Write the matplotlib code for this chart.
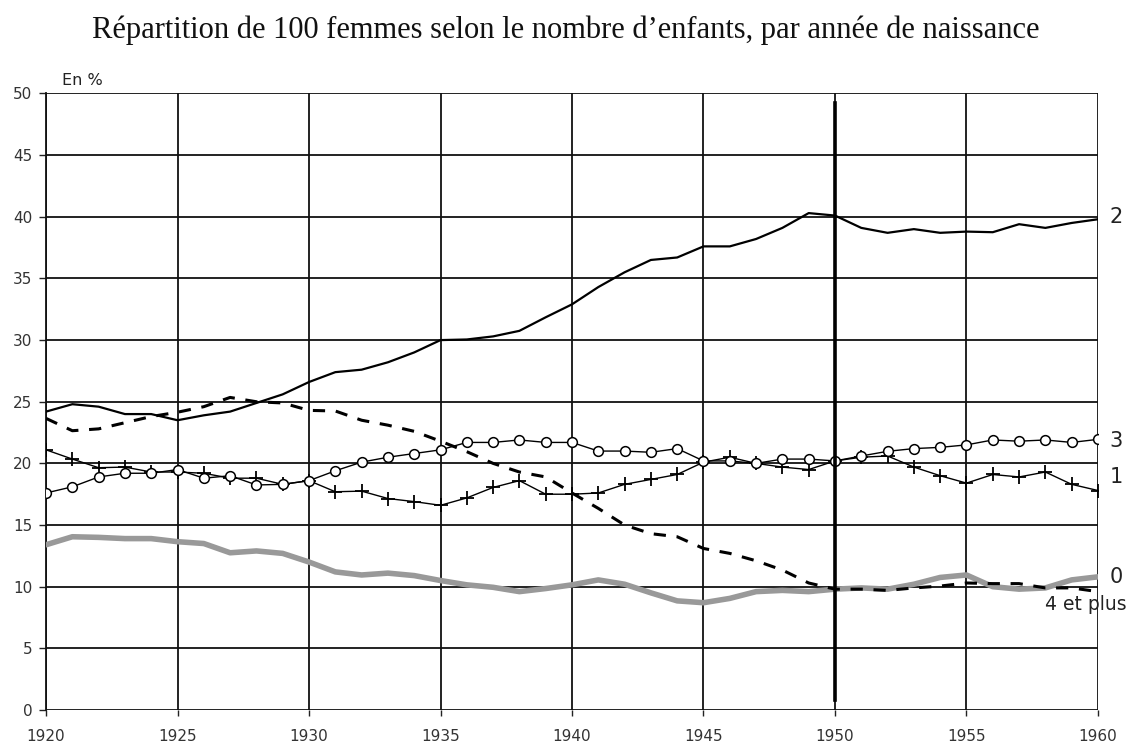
import matplotlib
matplotlib.use("Agg")
import matplotlib.pyplot as plt

years = list(range(1920, 1961))

two = [24.2, 24.8, 24.6, 24.0, 24.0, 23.5, 23.9, 24.2, 24.9, 25.6,
       26.6, 27.4, 27.6, 28.2, 29.0, 30.0, 30.05, 30.3, 30.75, 31.85,
       32.9, 34.3, 35.5, 36.5, 36.7, 37.6, 37.6, 38.2, 39.1, 40.3,
       40.1, 39.1, 38.7, 39.0, 38.7, 38.8, 38.75, 39.4, 39.1, 39.5, 39.8]

three = [17.6, 18.1, 18.9, 19.2, 19.2, 19.5, 18.8, 19.0, 18.25, 18.3,
         18.6, 19.4, 20.1, 20.5, 20.8, 21.1, 21.7, 21.7, 21.9, 21.7,
         21.7, 21.0, 21.0, 20.9, 21.2, 20.2, 20.2, 20.0, 20.35, 20.35,
         20.2, 20.6, 20.98, 21.2, 21.3, 21.5, 21.9, 21.8, 21.9, 21.7, 21.95]

one = [21.1, 20.35, 19.65, 19.7, 19.3, 19.3, 19.2, 18.8, 18.8, 18.3,
       18.6, 17.7, 17.75, 17.15, 16.9, 16.6, 17.2, 18.05, 18.6, 17.5,
       17.5, 17.6, 18.3, 18.7, 19.1, 20.1, 20.5, 20.0, 19.7, 19.5,
       20.2, 20.5, 20.6, 19.7, 19.0, 18.4, 19.1, 18.9, 19.3, 18.3, 17.8]

zero = [13.4, 14.05, 14.0, 13.9, 13.9, 13.65, 13.5, 12.75, 12.9, 12.7,
        12.0, 11.2, 10.95, 11.1, 10.9, 10.5, 10.15, 9.95, 9.6, 9.85,
        10.15, 10.55, 10.2, 9.5, 8.85, 8.7, 9.05, 9.6, 9.7, 9.6,
        9.8, 9.9, 9.8, 10.2, 10.75, 10.95, 10.0, 9.8, 9.9, 10.55, 10.8]

four_plus = [23.65, 22.65, 22.8, 23.3, 23.8, 24.15, 24.6, 25.35, 25.0, 24.9,
             24.3, 24.25, 23.5, 23.1, 22.6, 21.8, 20.95, 20.0, 19.3, 18.9,
             17.6, 16.35, 15.0, 14.3, 14.05, 13.1, 12.7, 12.1, 11.35, 10.3,
             9.8, 9.8, 9.7, 9.9, 10.05, 10.3, 10.25, 10.25, 9.9, 9.9, 9.6]

title = "Répartition de 100 femmes selon le nombre d\u2019enfants, par année de naissance"
xticks = list(range(1920, 1961, 5))
yticks = list(range(0, 51, 5))

fig = plt.figure(figsize=(11.31, 7.45), dpi=100)
ax = fig.add_axes([0.0407, 0.047, 0.9301, 0.8275])

ax.set_xlim(1920, 1960)
ax.set_ylim(0, 50)
ax.set_xticks(xticks)
ax.set_yticks(yticks)
ax.grid(True, color="#111111", linewidth=1.3)
ax.set_axisbelow(True)
for s in ["top", "right", "bottom"]:
    ax.spines[s].set_visible(False)
ax.spines["left"].set_color("#111111")
ax.spines["left"].set_linewidth(1.3)
ax.tick_params(axis="both", length=5, width=1.0, color="#222222",
               labelsize=11, labelcolor="#333333", pad=5)
ax.tick_params(axis="x", length=4, pad=10)
for lab in ax.get_xticklabels() + ax.get_yticklabels():
    lab.set_family("DejaVu Sans")

ax.plot(years, zero, color="#999999", linewidth=4.0, solid_capstyle="round", zorder=3)
ax.plot(years, four_plus, color="black", linewidth=2.2, dashes=(4, 3.5), zorder=3)
ax.plot(years, one, color="black", linewidth=1.0, marker="+", markersize=10,
        markeredgewidth=1.3, zorder=4)
ax.plot(years, three, color="black", linewidth=1.0, marker="o", markersize=7,
        markerfacecolor="white", markeredgecolor="black", markeredgewidth=1.1, zorder=5)
ax.plot(years, two, color="black", linewidth=1.6, zorder=4)

ax.plot([1950, 1950], [0.8, 49.2], color="black", linewidth=2.6, zorder=6)

fig.text(0.5, 0.9486, title, ha="center", va="baseline", fontsize=22,
         family="Liberation Serif", color="#111111")
fig.text(0.0548, 0.8917, "En %", ha="left", va="center", fontsize=11.5,
         family="DejaVu Sans", color="#222222")

lab_kw = dict(fontsize=15, family="DejaVu Sans", color="#222222",
              va="center", ha="left", clip_on=False)
ax.text(1960.45, 40.0, "2", **lab_kw)
ax.text(1960.45, 21.8, "3", **lab_kw)
ax.text(1960.45, 18.9, "1", **lab_kw)
ax.text(1960.45, 10.8, "0", **lab_kw)
ax.text(1961.1, 8.55, "4 et plus", fontsize=13.5, family="DejaVu Sans",
        color="#222222", va="center", ha="right", clip_on=False, zorder=7)

fig.savefig("out.png", dpi=100)
